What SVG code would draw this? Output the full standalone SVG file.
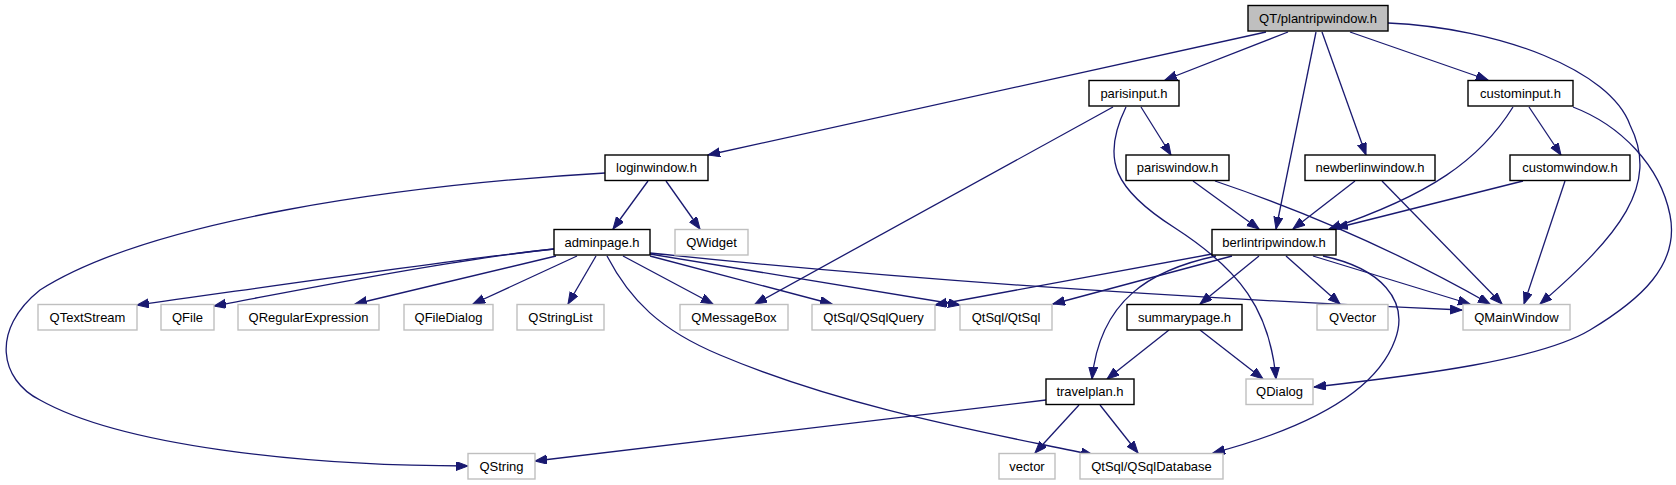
<svg xmlns="http://www.w3.org/2000/svg" width="1676" height="485" viewBox="0 0 1676 485">
<style>
.n rect{fill:#fff;stroke:#000;stroke-width:1.4}
.x rect{fill:#fff;stroke:#bfbfbf;stroke-width:1.4}
.r rect{fill:#bfbfbf;stroke:#000;stroke-width:1.4}
text{font-family:"Liberation Sans",Arial,sans-serif;font-size:13px;fill:#000;text-anchor:middle}
.e path{fill:none;stroke:#191970;stroke-width:1.3;marker-end:url(#a)}
</style>
<defs>
<marker id="a" markerUnits="userSpaceOnUse" markerWidth="13" markerHeight="10" refX="12" refY="4.5" orient="auto">
<path d="M0,0 L12,4.5 L0,9 z" fill="#191970" stroke="#191970" stroke-width="1"/>
</marker>
</defs>
<rect width="1676" height="485" fill="#fff"/>
<g class="e" id="edges">
<path d="M1266,32 L708,155"/>
<path d="M1288,32 L1165,80"/>
<path d="M1316,32 L1276,229"/>
<path d="M1322,32 L1366,155"/>
<path d="M1350,32 L1488,80"/>
<path d="M1388,23 C1500,28 1610,70 1630,125 C1660,185 1620,235 1540,304"/>
<path d="M1113,107 L755,304"/>
<path d="M1126,107 C1100,160 1115,190 1175,228 C1240,270 1270,310 1276,379"/>
<path d="M1141,107 L1171,155"/>
<path d="M1513,107 C1480,160 1430,195 1329,229"/>
<path d="M1529,107 L1561,155"/>
<path d="M1573,107 C1620,125 1660,165 1670,215 C1680,265 1640,300 1590,330 C1540,360 1420,375 1314,387"/>
<path d="M1193,181 L1259,229"/>
<path d="M1215,181 Q1360,230 1490,304"/>
<path d="M1355,181 L1293,229"/>
<path d="M1382,181 L1502,304"/>
<path d="M1523,181 L1336,228"/>
<path d="M1565,181 L1524,304"/>
<path d="M605,173 C400,185 150,220 40,290 C-10,330 0,380 40,400 C120,445 300,466 468,466"/>
<path d="M648,181 L613,229"/>
<path d="M666,181 L700,229"/>
<path d="M554,249 C450,260 260,288 137,305"/>
<path d="M554,249 C450,260 300,290 214,306"/>
<path d="M556,256 L355,304"/>
<path d="M577,256 L473,304"/>
<path d="M596,256 L568,304"/>
<path d="M623,256 L713,304"/>
<path d="M650,256 L832,304"/>
<path d="M650,254 L960,305"/>
<path d="M650,253 Q1000,290 1462,310"/>
<path d="M607,256 C630,300 660,330 720,355 C850,410 1000,435 1093,455"/>
<path d="M1212,254 L935,305"/>
<path d="M1232,256 L1053,304"/>
<path d="M1216,256 C1150,270 1100,300 1092,379"/>
<path d="M1259,256 L1200,304"/>
<path d="M1286,256 L1340,304"/>
<path d="M1313,256 L1470,304"/>
<path d="M1323,256 C1380,268 1410,300 1395,340 C1375,395 1300,430 1213,453"/>
<path d="M1169,330 L1107,379"/>
<path d="M1200,330 L1263,379"/>
<path d="M1046,400 L535,461"/>
<path d="M1079,405 L1035,453"/>
<path d="M1100,405 L1138,453"/>
</g>
<g id="n_plantripwindow" class="r"><rect x="1248" y="5.5" width="140" height="25.5"/><text x="1318" y="22.5">QT/plantripwindow.h</text></g>
<g id="n_parisinput" class="n"><rect x="1089" y="80.5" width="90" height="25.5"/><text x="1134" y="97.5">parisinput.h</text></g>
<g id="n_custominput" class="n"><rect x="1468" y="80.5" width="105" height="25.5"/><text x="1520.5" y="97.5">custominput.h</text></g>
<g id="n_loginwindow" class="n"><rect x="605" y="155" width="103" height="25.5"/><text x="656.5" y="172">loginwindow.h</text></g>
<g id="n_pariswindow" class="n"><rect x="1126" y="155" width="103" height="25.5"/><text x="1177.5" y="172">pariswindow.h</text></g>
<g id="n_newberlinwindow" class="n"><rect x="1305" y="155" width="130" height="25.5"/><text x="1370" y="172">newberlinwindow.h</text></g>
<g id="n_customwindow" class="n"><rect x="1510" y="155" width="120" height="25.5"/><text x="1570" y="172">customwindow.h</text></g>
<g id="n_adminpage" class="n"><rect x="554" y="229.5" width="96" height="25.5"/><text x="602" y="246.5">adminpage.h</text></g>
<g id="n_QWidget" class="x"><rect x="675" y="229.5" width="73" height="25.5"/><text x="711.5" y="246.5">QWidget</text></g>
<g id="n_berlintripwindow" class="n"><rect x="1212" y="229.5" width="124" height="25.5"/><text x="1274" y="246.5">berlintripwindow.h</text></g>
<g id="n_QTextStream" class="x"><rect x="38" y="304.5" width="99" height="25.5"/><text x="87.5" y="321.5">QTextStream</text></g>
<g id="n_QFile" class="x"><rect x="161" y="304.5" width="53" height="25.5"/><text x="187.5" y="321.5">QFile</text></g>
<g id="n_QRegularExpression" class="x"><rect x="238" y="304.5" width="141" height="25.5"/><text x="308.5" y="321.5">QRegularExpression</text></g>
<g id="n_QFileDialog" class="x"><rect x="404" y="304.5" width="89" height="25.5"/><text x="448.5" y="321.5">QFileDialog</text></g>
<g id="n_QStringList" class="x"><rect x="517" y="304.5" width="87" height="25.5"/><text x="560.5" y="321.5">QStringList</text></g>
<g id="n_QMessageBox" class="x"><rect x="680" y="304.5" width="108" height="25.5"/><text x="734" y="321.5">QMessageBox</text></g>
<g id="n_QSqlQuery" class="x"><rect x="812" y="304.5" width="123" height="25.5"/><text x="873.5" y="321.5">QtSql/QSqlQuery</text></g>
<g id="n_QtSql" class="x"><rect x="960" y="304.5" width="92" height="25.5"/><text x="1006" y="321.5">QtSql/QtSql</text></g>
<g id="n_summarypage" class="n"><rect x="1127" y="304.5" width="115" height="25.5"/><text x="1184.5" y="321.5">summarypage.h</text></g>
<g id="n_QVector" class="x"><rect x="1317" y="304.5" width="71" height="25.5"/><text x="1352.5" y="321.5">QVector</text></g>
<g id="n_QMainWindow" class="x"><rect x="1463" y="304.5" width="107" height="25.5"/><text x="1516.5" y="321.5">QMainWindow</text></g>
<g id="n_travelplan" class="n"><rect x="1046" y="379" width="88" height="25.5"/><text x="1090" y="396">travelplan.h</text></g>
<g id="n_QDialog" class="x"><rect x="1246" y="379" width="67" height="25.5"/><text x="1279.5" y="396">QDialog</text></g>
<g id="n_QString" class="x"><rect x="468" y="453.5" width="67" height="25.5"/><text x="501.5" y="470.5">QString</text></g>
<g id="n_vector" class="x"><rect x="999" y="453.5" width="56" height="25.5"/><text x="1027" y="470.5">vector</text></g>
<g id="n_QSqlDatabase" class="x"><rect x="1080" y="453.5" width="143" height="25.5"/><text x="1151.5" y="470.5">QtSql/QSqlDatabase</text></g>
</svg>
